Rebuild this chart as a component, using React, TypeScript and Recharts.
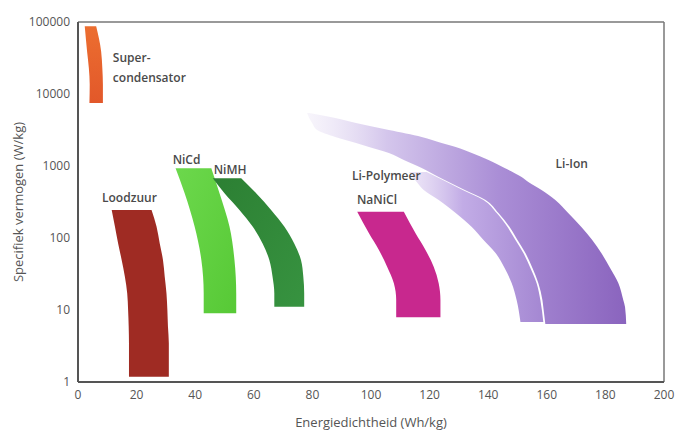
import { ComposedChart, Area, XAxis, YAxis, ReferenceLine, ReferenceDot } from 'recharts';

// power levels (W/kg) along each band, with left / right energy edge (Wh/kg)
const superP = [87000, 39000, 23000, 13500, 7500];
const superLo = [2.3, 3.1, 3.7, 4.0, 3.9];
const superHi = [6.2, 7.9, 8.3, 8.5, 8.5];

const leadP = [245, 144, 84, 49.5, 29, 17, 10, 5.9, 3.45, 1.18];
const leadLo = [11.5, 12.6, 13.7, 14.9, 16.0, 16.8, 17.1, 17.3, 17.4, 17.4];
const leadHi = [25.1, 26.8, 27.9, 29.0, 29.6, 30.2, 30.5, 30.7, 31, 31];

const nicdP = [930, 418, 144, 49.5, 17, 9];
const nicdLo = [33.3, 36.4, 39.8, 42.1, 42.9, 42.9];
const nicdHi = [45.5, 48.3, 51.7, 53.4, 54.0, 54.0];

const nimhP = [675, 418, 245, 144, 84, 49.5, 29, 17, 11.1];
const nimhLo = [46.0, 50.0, 55.1, 59.6, 63.0, 65.3, 66.4, 67.0, 67.0];
const nimhHi = [55.7, 60.8, 65.9, 70.4, 73.8, 76.1, 76.9, 77.2, 77.2];

const nanaclP = [232, 116, 68, 40, 23.5, 13.8, 7.9];
const nanaclLo = [95.3, 99.3, 102.7, 105.5, 107.8, 108.6, 108.6];
const nanaclHi = [111.2, 115.2, 118.6, 121.4, 123.1, 123.7, 123.7];

const liIonP = [5450, 4640, 3960, 3160, 2530, 2085, 1836, 1516, 1212, 938, 703, 599, 464, 337, 222, 142, 93.8, 61.9, 38.3, 23.7, 13.8, 11, 6.4];
const liIonLo = [78.2, 78.9, 79.9, 81.6, 87.8, 94.9, 99.3, 106.1, 111.2, 117.3, 123.1, 126.5, 132, 139.1, 143.5, 147.3, 150, 152.7, 155.1, 157.1, 158.5, 158.8, 159.5];
const liIonHi = [78.9, 87.8, 94.9, 106.1, 117.3, 124.1, 128.9, 134.4, 140.1, 145.6, 151.4, 153.7, 158.2, 162.9, 167.3, 171.8, 175.5, 178.6, 181.6, 184.4, 186.1, 186.7, 187.1];

const liPolP = [826, 599, 464, 337, 222, 142, 93.8, 61.9, 38.3, 23.7, 13.8, 6.8];
const liPolLo = [112.9, 115.6, 118, 123.1, 128.9, 134.4, 138.4, 142.5, 145.6, 148, 149.7, 151];
const liPolHi = [119, 125.9, 131.3, 138.4, 142.9, 146.6, 149.3, 152, 154.4, 156.5, 157.8, 158.8];

const xTicks = [0, 20, 40, 60, 80, 100, 120, 140, 160, 180, 200];
const yTicks = [1, 10, 100, 1000, 10000, 100000];

const bands = [
  { key: 'superc', p: superP, lo: superLo, hi: superHi, fill: 'url(#gSuper)' },
  { key: 'lood', p: leadP, lo: leadLo, hi: leadHi, fill: '#9f2b23' },
  { key: 'nicd', p: nicdP, lo: nicdLo, hi: nicdHi, fill: 'url(#gNicd)' },
  { key: 'nimh', p: nimhP, lo: nimhLo, hi: nimhHi, fill: 'url(#gNimh)' },
  { key: 'nanicl', p: nanaclP, lo: nanaclLo, hi: nanaclHi, fill: '#c8288e' },
  { key: 'lipol', p: liPolP, lo: liPolLo, hi: liPolHi, fill: 'url(#gLiPol)' },
  { key: 'liion', p: liIonP, lo: liIonLo, hi: liIonHi, fill: 'url(#gLiIon)' },
];

const allP = Array.from(new Set(bands.flatMap((b) => b.p))).sort((a, b) => b - a);
const data = allP.map((p) => {
  const row: any = { p };
  bands.forEach((b) => {
    const i = b.p.indexOf(p);
    row[b.key] = i >= 0 ? [b.lo[i], b.hi[i]] : [null, null];
  });
  return row;
});

const labels = [
  { text: ['Super-', 'condensator'], x: 11.9, y: 27800 },
  { text: ['Loodzuur'], x: 8.2, y: 316 },
  { text: ['NiCd'], x: 32.3, y: 1070 },
  { text: ['NiMH'], x: 46.3, y: 774 },
  { text: ['Li-Polymeer'], x: 93.5, y: 640 },
  { text: ['NaNiCl'], x: 95.2, y: 297 },
  { text: ['Li-Ion'], x: 163, y: 938 },
];

const font = '"Open Sans", sans-serif';

const BandLabel = ({ cx, cy, lines }: any) => (
  <text x={cx} y={cy} fill="#4a4a4a" fontSize={12} fontWeight={600} fontFamily={font}>
    {lines.map((t: string, i: number) => (
      <tspan key={t} x={cx} dy={i === 0 ? 0 : 20}>
        {t}
      </tspan>
    ))}
  </text>
);

export default function App() {
  return (
    <div style={{ position: 'absolute', left: 0, top: 0, background: '#fff' }}>
      <ComposedChart
        width={675}
        height={431}
        data={data}
        layout="vertical"
        margin={{ top: 22, right: 11, left: 0, bottom: 0 }}
      >
        <defs>
          <linearGradient id="gSuper" x1="0" y1="0" x2="0" y2="1">
            <stop offset="0%" stopColor="#ec6e30" />
            <stop offset="100%" stopColor="#e2582a" />
          </linearGradient>
          <linearGradient id="gNicd" x1="0" y1="0" x2="1" y2="1">
            <stop offset="0%" stopColor="#6cd84c" />
            <stop offset="100%" stopColor="#57c936" />
          </linearGradient>
          <linearGradient id="gNimh" x1="0" y1="0" x2="1" y2="1">
            <stop offset="0%" stopColor="#2c7f33" />
            <stop offset="100%" stopColor="#379340" />
          </linearGradient>
          <linearGradient id="gLiIon" x1="0" y1="0" x2="1" y2="0">
            <stop offset="0%" stopColor="#ece6f6" stopOpacity={0.4} />
            <stop offset="25%" stopColor="#d4c6ec" />
            <stop offset="60%" stopColor="#aa8ed6" />
            <stop offset="100%" stopColor="#8a64be" />
          </linearGradient>
          <linearGradient id="gLiPol" x1="0" y1="0" x2="1" y2="0">
            <stop offset="0%" stopColor="#ddd0f0" stopOpacity={0.5} />
            <stop offset="40%" stopColor="#c2ace6" />
            <stop offset="100%" stopColor="#a487d2" />
          </linearGradient>
        </defs>
        <XAxis
          type="number"
          domain={[0, 200]}
          ticks={xTicks}
          allowDataOverflow
          height={49}
          axisLine={{ stroke: '#555', strokeWidth: 2 }}
          tickLine={false}
          tick={{ fill: '#555', fontSize: 12, fontFamily: font }}
          label={{
            value: 'Energiedichtheid (Wh/kg)',
            position: 'insideBottom',
            offset: 4,
            fill: '#555',
            fontSize: 13,
            fontFamily: font,
          }}
        />
        <YAxis
          type="number"
          dataKey="p"
          scale="log"
          domain={[1, 100000]}
          ticks={yTicks}
          allowDataOverflow
          reversed
          width={78}
          axisLine={{ stroke: '#555', strokeWidth: 2 }}
          tickLine={false}
          tick={{ fill: '#555', fontSize: 12, fontFamily: font }}
          label={{
            value: 'Specifiek vermogen (W/kg)',
            angle: -90,
            position: 'center',
            dx: -21,
            fill: '#555',
            fontSize: 13,
            fontFamily: font,
          }}
        />
        <ReferenceLine y={100000} stroke="#777" strokeWidth={1.5} ifOverflow="visible" />
        <ReferenceLine x={200} stroke="#777" strokeWidth={1.5} ifOverflow="visible" />
        {bands.map((b) => (
          <Area
            key={b.key}
            dataKey={b.key}
            type="monotone"
            stroke="none"
            fill={b.fill}
            fillOpacity={1}
            connectNulls
            dot={false}
            activeDot={false}
            isAnimationActive={false}
          />
        ))}
        {labels.map((l) => (
          <ReferenceDot
            key={l.text[0]}
            x={l.x}
            y={l.y}
            r={0}
            ifOverflow="visible"
            shape={(props: any) => <BandLabel {...props} lines={l.text} />}
          />
        ))}
      </ComposedChart>
    </div>
  );
}
